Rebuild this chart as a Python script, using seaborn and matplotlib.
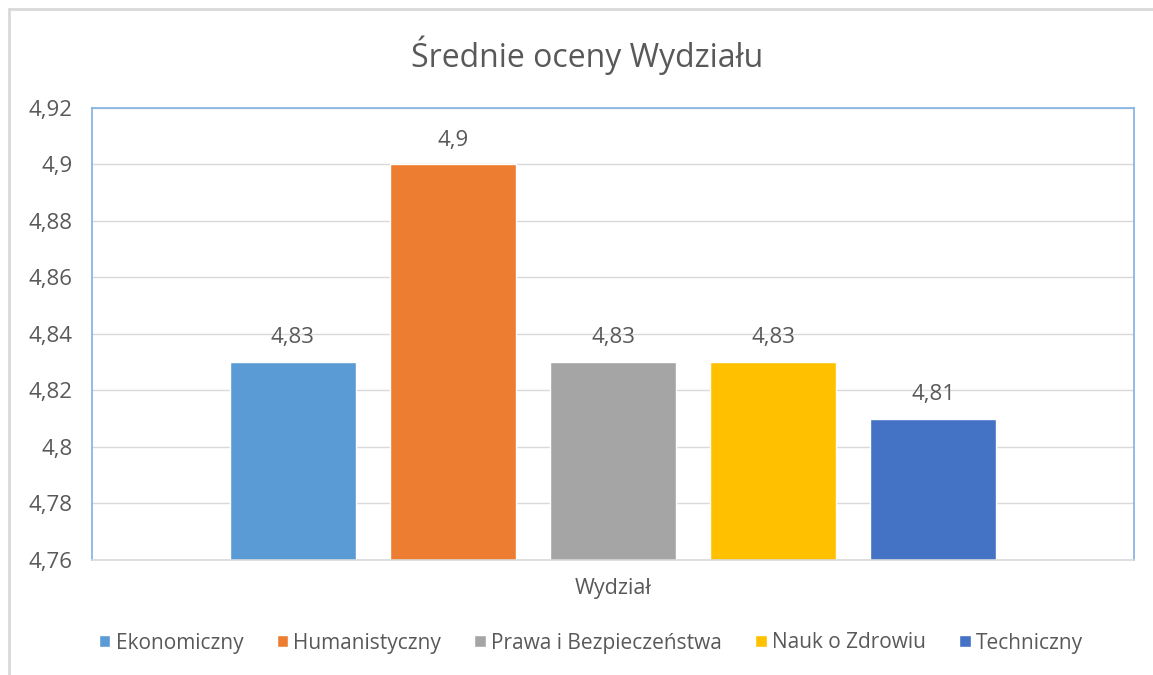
import matplotlib
matplotlib.use("Agg")
import matplotlib.pyplot as plt
import matplotlib.lines as mlines
from matplotlib.ticker import FuncFormatter, MultipleLocator
import pandas as pd
import seaborn as sns

# data
wydzialy = ["Ekonomiczny", "Humanistyczny", "Prawa i Bezpieczeństwa", "Nauk o Zdrowiu", "Techniczny"]
oceny = [4.83, 4.90, 4.83, 4.83, 4.81]
kategoria = ["Wydział"] * 5
kolory = ["#5B9BD5", "#ED7D31", "#A5A5A5", "#FFC000", "#4472C4"]

df = pd.DataFrame({"kat": kategoria, "wydzial": wydzialy, "ocena": oceny})

sns.set_theme(style="white")
plt.rcParams["font.family"] = ["Open Sans", "DejaVu Sans"]
txt = "#595959"

fig = plt.figure(figsize=(11.53, 6.75), dpi=100)
ax = fig.add_axes([92 / 1153, 1 - 560 / 675, (1134 - 92) / 1153, (560 - 108) / 675])

sns.barplot(data=df, x="kat", y="ocena", hue="wydzial", palette=kolory,
            width=0.768, gap=0.21, ax=ax, legend=True, saturation=1)

ax.set_ylim(4.76, 4.92)
ax.set_xlim(-0.5, 0.5)
ax.yaxis.set_major_locator(MultipleLocator(0.02))
fmt = lambda v, p: ("%.2f" % v).rstrip("0").rstrip(".").replace(".", ",")
ax.yaxis.set_major_formatter(FuncFormatter(fmt))
ax.grid(axis="y", color="#D9D9D9", lw=1)
ax.set_axisbelow(True)
ax.tick_params(axis="y", labelsize=16, labelcolor=txt, length=0, pad=14)
ax.tick_params(axis="x", labelsize=15.5, labelcolor=txt, length=0, pad=13)
ax.set_xlabel("")
ax.set_ylabel("")

for s in ax.spines.values():
    s.set_color("#7FB2E5")
    s.set_linewidth(1.2)
ax.spines["bottom"].set_color("#D9D9D9")

for c in ax.containers:
    ax.bar_label(c, labels=[fmt(v, None) for v in c.datavalues], padding=10,
                 fontsize=16, color=txt)

fig.text(587 / 1153, 1 - 55 / 675, "Średnie oceny Wydziału", fontsize=23, color=txt,
         ha="center", va="center")

h, l = ax.get_legend_handles_labels()
ax.get_legend().remove()
fig.legend(h, l, loc="center", bbox_to_anchor=(591 / 1153, 1 - 643 / 675), ncol=5,
           frameon=False, fontsize=15, labelcolor=txt, handlelength=0.55,
           handleheight=0.55, handletextpad=0.25, columnspacing=1.6)

# outer chart frame (only top and left visible in the screenshot)
fig.add_artist(mlines.Line2D([9 / 1153, 9 / 1153], [0, 1 - 9 / 675], color="#D9D9D9", lw=2))
fig.add_artist(mlines.Line2D([9 / 1153, 1], [1 - 9 / 675, 1 - 9 / 675], color="#D9D9D9", lw=2))

fig.savefig("out.png", dpi=100)
